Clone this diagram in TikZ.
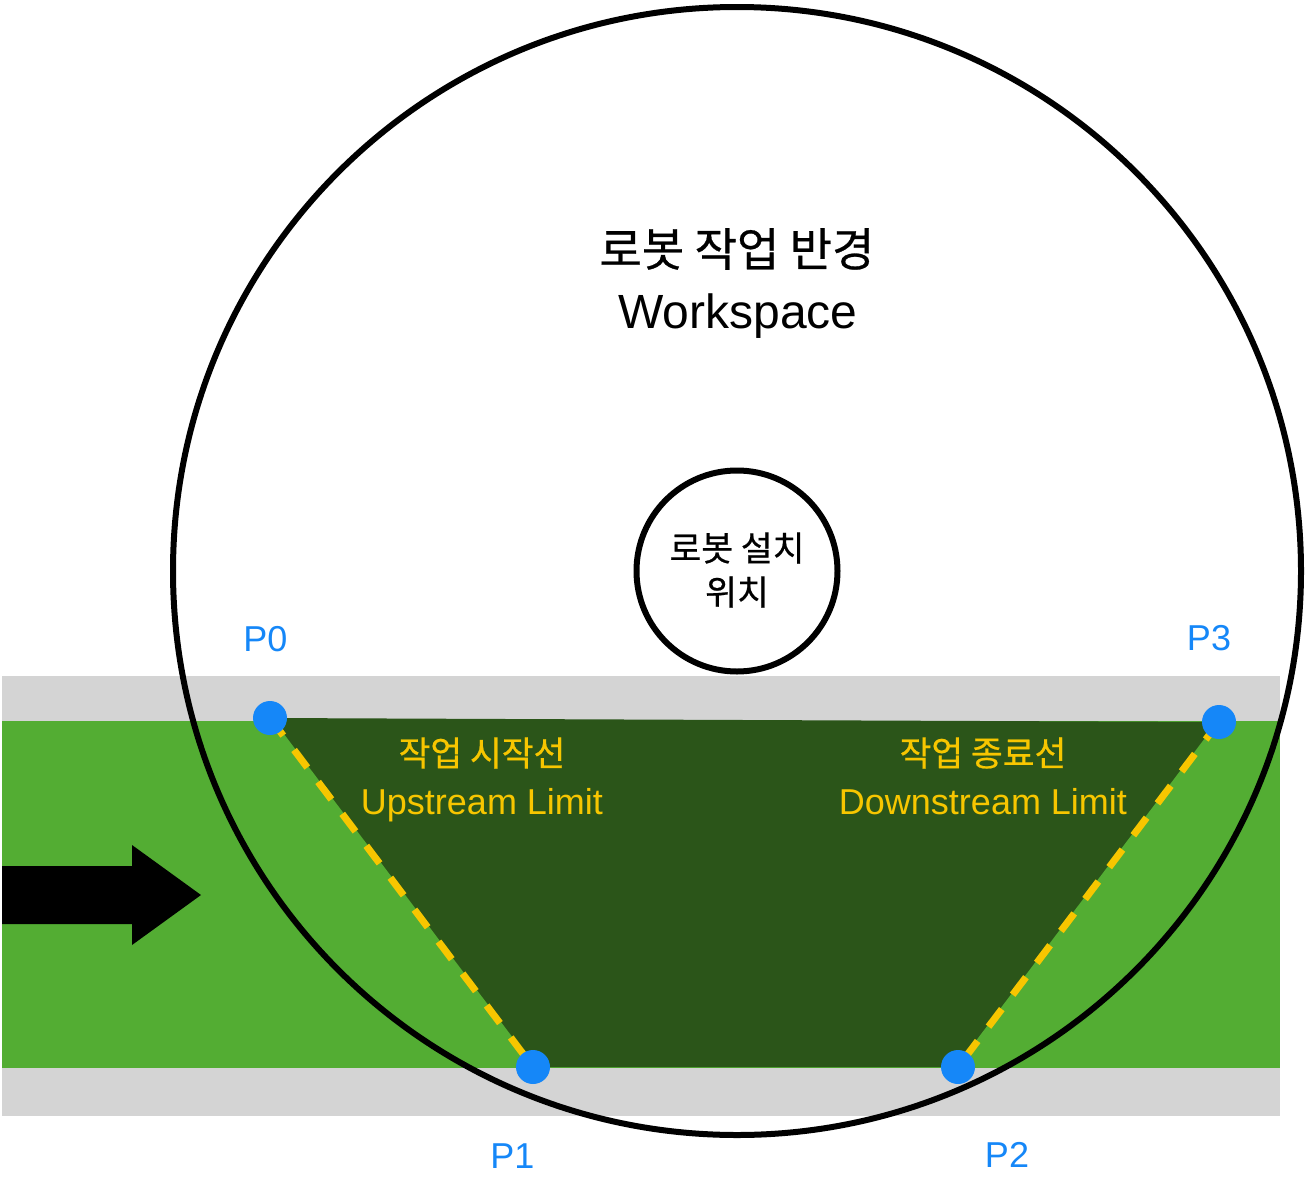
\documentclass[tikz,border=0pt]{standalone}
\usepackage{fontspec}
\setmainfont{Liberation Sans}
\newfontfamily\kr[Scale=0.96,FakeBold=0.6]{Noto Sans CJK KR}
\definecolor{beltgray}{HTML}{D4D4D4}
\definecolor{beltgreen}{HTML}{53AD33}
\definecolor{zonegreen}{HTML}{2B5519}
\definecolor{ptblue}{HTML}{1587F8}
\definecolor{limyellow}{HTML}{F7C600}
\begin{document}
\begin{tikzpicture}[x=1pt,y=-1pt,
  dot/.style={circle,fill=ptblue,inner sep=0pt,minimum size=34pt},
  plabel/.style={text=ptblue,font=\fontsize{36}{40}\selectfont,anchor=base,inner sep=0pt},
  ylabel/.style={text=limyellow,font=\fontsize{36}{40}\selectfont,inner sep=0pt},
  blabel/.style={text=black,inner sep=0pt},
  edgeline/.style={draw=beltgreen,line width=3pt},
  edgedash/.style={draw=limyellow,line width=7pt,dash pattern=on 22pt off 18pt}]
\useasboundingbox (0,0) rectangle (1310,1186);
\fill[white] (0,0) rectangle (1310,1186);
% belt
\fill[beltgray] (2,676) rectangle (1280,1116);
\fill[beltgreen] (2,721) rectangle (1280,1068);
% points
\coordinate (P0) at (270,718);
\coordinate (P1) at (533,1067);
\coordinate (P2) at (958,1067);
\coordinate (P3) at (1219,722);
% working zone
\fill[zonegreen] (P0) -- (P3) -- (P2) -- (P1) -- cycle;
\draw[edgeline] (P0) -- (P1);
\draw[edgeline] (P3) -- (P2);
\draw[edgedash] (P0) -- (P1);
\draw[edgedash] (P3) -- (P2);
% flow arrow
\fill[black] (2,866) -- (132,866) -- (132,845) -- (201,895) -- (132,945) -- (132,924) -- (2,924) -- cycle;
% workspace circle
\node[circle,draw=black,line width=6pt,minimum size=1128pt,inner sep=0pt] (ws) at (737,571) {};
\node[circle,draw=black,fill=white,line width=6pt,minimum size=201pt,inner sep=0pt] (base) at (737,571) {};
% dots
\node[dot] (d0) at (P0) {};
\node[dot] (d1) at (P1) {};
\node[dot] (d2) at (P2) {};
\node[dot] (d3) at (P3) {};
% labels
\node[plabel] (l0) at (265.5,651) {P0};
\node[plabel] (l3) at (1209,650) {P3};
\node[plabel] (l1) at (512.5,1168) {P1};
\node[plabel] (l2) at (1007,1167) {P2};
\node[blabel,font=\fontsize{48}{56}\selectfont\kr] (t1) at (737,249) {로봇 작업 반경};
\node[blabel,font=\fontsize{48}{56}\selectfont,anchor=base] (t2) at (738,328) {Workspace};
\node[blabel,font=\fontsize{36}{40}\selectfont\kr] (b1) at (737,548) {로봇 설치};
\node[blabel,font=\fontsize{36}{40}\selectfont\kr] (b2) at (737,592) {위치};
\node[ylabel,font=\fontsize{36}{40}\selectfont\kr] (u1) at (482,753) {작업 시작선};
\node[ylabel,anchor=base] (u2) at (482,814) {Upstream Limit};
\node[ylabel,font=\fontsize{36}{40}\selectfont\kr] (w1) at (983,753) {작업 종료선};
\node[ylabel,anchor=base] (w2) at (983,814) {Downstream Limit};
\end{tikzpicture}
\end{document}
